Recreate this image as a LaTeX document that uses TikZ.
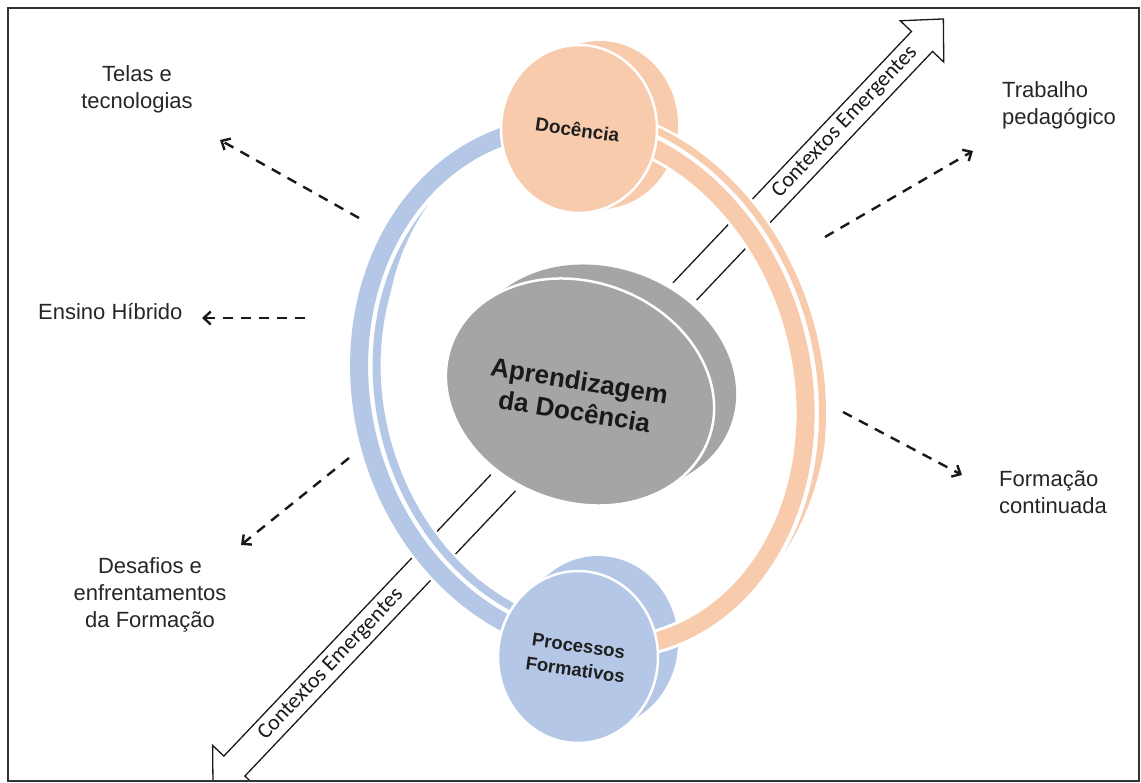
\documentclass[tikz,border=0pt]{standalone}
\usepackage{fontspec}
\setmainfont{Liberation Sans}
\newfontfamily\calfont{Carlito}
\usetikzlibrary{arrows.meta}
\definecolor{orng}{HTML}{F8CBAD}
\definecolor{blu}{HTML}{B4C7E7}
\definecolor{gry}{HTML}{A5A5A5}
\definecolor{txt}{HTML}{262626}
\definecolor{ln}{HTML}{1A1A1A}
\begin{document}
\begin{tikzpicture}[x=1pt,y=-1pt,
  lbl/.style={font=\fontsize{22}{27}\selectfont, text=txt, inner sep=0pt},
  dtxt/.style={font=\bfseries\fontsize{19}{23}\selectfont, text=black!88, inner sep=0pt, align=center},
  ctx/.style={font=\calfont\fontsize{22}{26}\selectfont, text=ln, inner sep=0pt},
  dasharrow/.style={draw=black!90, line width=2.4pt, dash pattern=on 10pt off 8pt, -{Straight Barb[length=7pt,width=13pt]}},
  band/.style={line width=18pt, preaction={draw=white, line width=24pt}},
  sliver/.style={preaction={draw=white, line width=5pt}},
]
\useasboundingbox (0,0) rectangle (1141,783);

% big double arrow "Contextos Emergentes"
\begin{scope}
  \clip (8,8) rectangle (1139,781);
  \begin{scope}[shift={(233,767.5)}, rotate=46.5]
    \draw[draw=ln, line width=1.3pt, fill=white, line join=miter]
      (1032,0) -- (1001,-30) -- (1001,-14.5) -- (2,-14.5) -- (2,-30) -- (-29,0)
      -- (2,30) -- (2,14.5) -- (1001,14.5) -- (1001,30) -- cycle;
  \end{scope}
\end{scope}
\node[ctx, rotate=46.5] (ce1) at (845,122) {Contextos Emergentes};
\node[ctx, rotate=46.5] (ce2) at (331,664.5) {Contextos Emergentes};

% central grey disk
\path[draw=white, line width=14pt, rotate around={-20:(602,378)}] (602,378) ellipse [x radius=137, y radius=110];
\path[draw=white, line width=14pt, rotate around={-20:(580,392)}] (580,392) ellipse [x radius=137, y radius=110];
\fill[gry, rotate around={-20:(602,378)}] (602,378) ellipse [x radius=137, y radius=110];
\fill[gry, rotate around={-20:(591,385)}] (591,385) ellipse [x radius=137, y radius=110];
\filldraw[fill=gry, draw=white, line width=2.5pt, rotate around={-20:(580,392)}] (580,392) ellipse [x radius=137, y radius=110];
\node[font=\bfseries\fontsize{26}{31}\selectfont, text=black!90, inner sep=0pt, align=center, rotate=-9] (apr) at (577,396) {Aprendizagem\\da Docência};

% back faces of the small disks
\fill[orng] (590,127) ellipse [x radius=78, y radius=84];
\fill[orng] (600,125) ellipse [x radius=78, y radius=84];
\fill[blu] (588,649.5) ellipse [x radius=80, y radius=86];
\fill[blu] (598,642) ellipse [x radius=80, y radius=86];

% ring bands
\begin{scope}[shift={(586,387)}, rotate=15]
  \draw[blu, band] (112:224 and 264) arc[start angle=112, end angle=268, x radius=224, y radius=264];
  \fill[blu, sliver] (112:210.5 and 250.5) arc[start angle=112, end angle=240, x radius=210.5, y radius=250.5]
    -- plot[domain=240:112, samples=90] ({(210.5-min(8,(240-\x)/3))*cos(\x)}, {(250.5-min(8,(240-\x)/3))*sin(\x)}) -- cycle;
  \draw[orng, band] (-80:216 and 264) arc[start angle=-80, end angle=95, x radius=216, y radius=264];
  \fill[orng, sliver] (-80:229.5 and 277.5) arc[start angle=-80, end angle=50, x radius=229.5, y radius=277.5]
    -- plot[domain=50:-80, samples=90] ({(229.5+min(7,(50-\x)/3.5))*cos(\x)}, {(277.5+min(7,(50-\x)/3.5))*sin(\x)}) -- cycle;
\end{scope}

% front disks
\filldraw[fill=orng, draw=white, line width=2.5pt] (579,129) ellipse [x radius=78, y radius=84];
\node[dtxt, rotate=-8] (doc) at (577.5,129.5) {Docência};
\filldraw[fill=blu, draw=white, line width=2.5pt] (578,657) ellipse [x radius=80, y radius=86];
\node[dtxt, font=\bfseries\fontsize{18.5}{24}\selectfont, rotate=-8] (proc) at (577,658) {Processos\\Formativos};

% labels
\node[lbl, align=center, anchor=north] (tel) at (137,65.3) {Telas e\\tecnologias};
\node[lbl, anchor=base west] (ens) at (38,320) {Ensino Híbrido};
\node[lbl, align=center, anchor=north] (des) at (150,557) {Desafios e\\enfrentamentos\\da Formação};
\node[lbl, align=left, anchor=north west] (tra) at (1002,81.3) {Trabalho\\pedagógico};
\node[lbl, align=left, anchor=north west] (for) at (999,471) {Formação\\continuada};

% dashed arrows
\coordinate (a1s) at (359,218); \coordinate (a1e) at (220,140);
\coordinate (a2s) at (305,318); \coordinate (a2e) at (202,318);
\coordinate (a3s) at (349,458); \coordinate (a3e) at (241,545);
\coordinate (a4s) at (825,237); \coordinate (a4e) at (973,151);
\coordinate (a5s) at (843,412); \coordinate (a5e) at (962,475);
\draw[dasharrow] (a1s) -- (a1e);
\draw[dasharrow] (a2s) -- (a2e);
\draw[dasharrow] (a3s) -- (a3e);
\draw[dasharrow] (a4s) -- (a4e);
\draw[dasharrow] (a5s) -- (a5e);

% frame
\draw[black!80, line width=1.5pt] (8,8) rectangle (1139,781);
\end{tikzpicture}
\end{document}
